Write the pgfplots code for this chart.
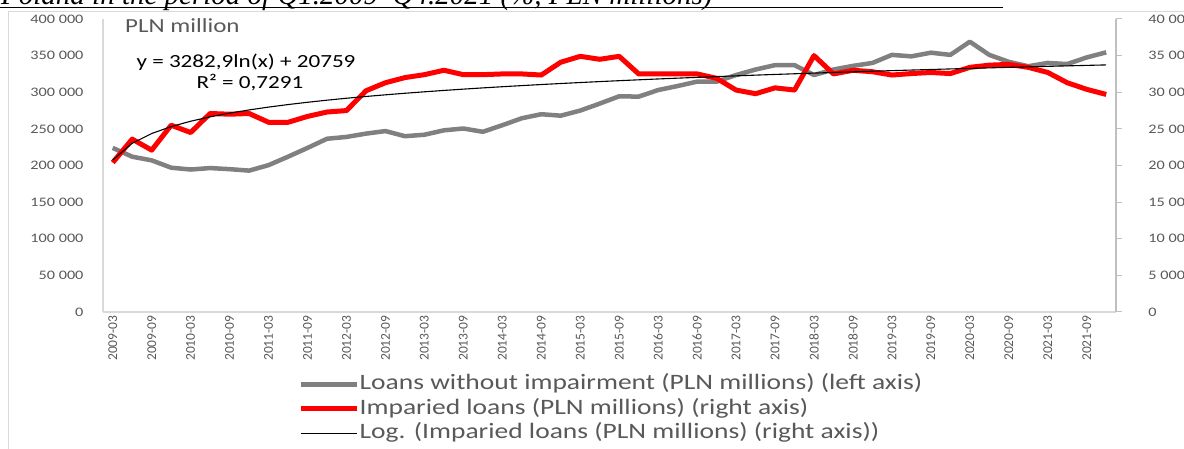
\documentclass[border=0pt]{standalone}
\usepackage{fontspec}
\setmainfont{Carlito}
\newfontfamily\chartfont[FakeStretch=1.25]{Carlito}
\newfontfamily\titlefont{Liberation Serif}
\usepackage{pgfplots}
\usepackage{pgfplotstable}
\pgfplotsset{compat=1.18}

\definecolor{serGray}{RGB}{128,128,128}
\definecolor{serRed}{RGB}{255,0,0}
\definecolor{txt}{RGB}{89,89,89}
\definecolor{axl}{RGB}{217,217,217}
\definecolor{axr}{RGB}{191,191,191}

% quarter index 0 = 2009-03 ... 51 = 2021-12
\pgfplotstableread{
q loans
0 224000
1 212000
2 207000
3 197000
4 194500
5 196500
6 195000
7 193000
8 200500
9 212000
10 224000
11 236500
12 239000
13 243500
14 247000
15 240000
16 242000
17 248000
18 250500
19 246000
20 255000
21 264500
22 270000
23 268000
24 275000
25 284500
26 294500
27 294000
28 303000
29 308500
30 314500
31 314500
32 323500
33 331000
34 337000
35 337000
36 323500
37 331000
38 336000
39 340000
40 351000
41 349000
42 354000
43 351000
44 369000
45 351000
46 341500
47 335500
48 340000
49 338500
50 347500
51 354500
}\loanstable

\pgfplotstableread{
q impaired trend
0 20400 20759
1 23600 23034
2 22100 24366
3 25500 25310
4 24500 26043
5 27100 26641
6 27000 27147
7 27100 27586
8 25900 27972
9 25900 28318
10 26700 28631
11 27300 28917
12 27500 29180
13 30200 29423
14 31300 29649
15 32000 29861
16 32400 30060
17 33000 30248
18 32400 30426
19 32400 30594
20 32500 30754
21 32500 30907
22 32350 31053
23 34100 31192
24 34900 31326
25 34500 31455
26 34900 31579
27 32500 31698
28 32500 31814
29 32500 31925
30 32500 32032
31 31900 32137
32 30300 32238
33 29800 32336
34 30600 32431
35 30300 32523
36 35000 32613
37 32500 32701
38 33000 32786
39 32800 32869
40 32350 32950
41 32550 33029
42 32700 33107
43 32550 33182
44 33400 33256
45 33700 33328
46 33800 33399
47 33400 33468
48 32700 33536
49 31300 33602
50 30400 33667
51 29700 33731
}\impairedtable

\begin{document}
\begin{tikzpicture}[x=1pt,y=1pt]
% plot area lower-left corner is the origin
\useasboundingbox (-103,-137) rectangle (1081,312);

% clipped caption line above the chart
\node[anchor=base west, inner sep=0, font=\titlefont\itshape\fontsize{29}{29}\selectfont] at (-102,307) {Poland in the period of Q1.2009–Q4.2021 (\%, PLN millions)};
\draw[line width=1.5pt] (-103,304.5) -- (900,304.5);
\draw[axl, line width=0.8pt] (-95,-160) rectangle (1110,301);

\begin{axis}[
  scale only axis, width=1013pt, height=293pt,
  xmin=-0.5, xmax=51.5, ymin=0, ymax=400000,
  axis x line*=bottom, axis y line*=left,
  axis line style={draw=axl, line width=1.2pt, -},
  major tick length=0pt,
  scaled y ticks=false,
  xtick={0,2,...,50},
  xticklabels={2009-03,2009-09,2010-03,2010-09,2011-03,2011-09,2012-03,2012-09,2013-03,2013-09,2014-03,2014-09,2015-03,2015-09,2016-03,2016-09,2017-03,2017-09,2018-03,2018-09,2019-03,2019-09,2020-03,2020-09,2021-03,2021-09},
  xticklabel style={rotate=90, anchor=east, text=txt, font=\fontsize{13.5}{13.5}\selectfont},
  ytick={0,50000,...,400000},
  yticklabels={0,50 000,100 000,150 000,200 000,250 000,300 000,350 000,400 000},
  yticklabel style={text=txt, font=\chartfont\fontsize{13}{13}\selectfont, xshift=-16pt},
]
\addplot[serGray, line width=4.5pt, line join=round] table[x=q, y=loans] {\loanstable};
\end{axis}

\begin{axis}[
  scale only axis, width=1013pt, height=293pt,
  xmin=-0.5, xmax=51.5, ymin=0, ymax=40000,
  axis x line=none, axis y line*=right,
  axis line style={draw=axr, line width=1.5pt, -},
  scaled y ticks=false,
  ytick={0,5000,...,40000},
  yticklabels={0,5 000,10 000,15 000,20 000,25 000,30 000,35 000,40 000},
  ytick style={draw=axr, line width=1pt},
  major tick length=6pt, tick align=outside,
  yticklabel style={text=txt, font=\chartfont\fontsize{13}{13}\selectfont, xshift=23pt},
  legend style={at={(axis description cs:0.1925,-0.21)}, anchor=north west,
    draw=none, fill=none, inner sep=0pt, text=txt,
    font=\chartfont\fontsize{22}{22}\selectfont, row sep=3pt,
    nodes={inner sep=0.5pt, text height=15.5pt, text depth=5pt},
    /tikz/every even column/.append style={column sep=5pt}},
  legend cell align=left,
  legend image code/.code={\draw[#1] (0pt,0pt) -- (56pt,0pt);},
]
\addlegendimage{serGray, line width=4.5pt}
\addlegendentry{Loans without impairment (PLN millions) (left axis)}
\addplot[serRed, line width=5pt, line join=round] table[x=q, y=impaired] {\impairedtable};
\addlegendentry{Imparied loans (PLN millions) (right axis)}
\addplot[black, line width=1.1pt] table[x=q, y=trend] {\impairedtable};
\addlegendentry{Log. (Imparied loans (PLN millions) (right axis))}
\end{axis}

\node[anchor=west, inner sep=0, text=txt, font=\chartfont\fontsize{20}{20}\selectfont] at (22,286) {PLN million};
\node[anchor=center, inner sep=0, font=\chartfont\fontsize{18.5}{18.5}\selectfont] at (143,250) {y = 3282,9ln(x) + 20759};
\node[anchor=center, inner sep=0, font=\chartfont\fontsize{18.5}{18.5}\selectfont] at (147,229) {R² = 0,7291};
\end{tikzpicture}
\end{document}
